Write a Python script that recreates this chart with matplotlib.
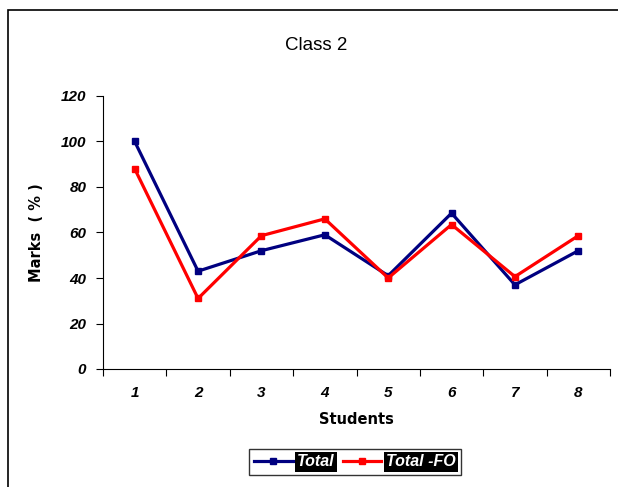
import matplotlib
matplotlib.use('Agg')
import matplotlib.pyplot as plt
from matplotlib.patches import Rectangle

plt.rcParams['font.family'] = ['Liberation Sans', 'DejaVu Sans']

students = [1, 2, 3, 4, 5, 6, 7, 8]
total = [100, 43, 52, 59, 41, 68.5, 37, 52]
total_fo = [88, 31, 58.6, 66, 40, 63.5, 40.6, 58.6]
yticks = [0, 20, 40, 60, 80, 100, 120]

fig = plt.figure(figsize=(6.18, 4.87), dpi=100)
# outer chart border (cropped at right/bottom like the source)
fig.patches.append(Rectangle((8 / 618, -0.1), 1.1, 1 - 10 / 487 + 0.1,
                             transform=fig.transFigure, fill=False,
                             edgecolor='black', linewidth=1.2))

ax = fig.add_axes([103 / 618, 1 - 369 / 487, 507 / 618, 273 / 487])
ax.plot(students, total, color='#000080', lw=2.3, marker='s', ms=5, label='Total')
ax.plot(students, total_fo, color='#ff0000', lw=2.3, marker='s', ms=5, label='Total -FO')

ax.set_xlim(0.5, 8.5)
ax.set_ylim(0, 120)
ax.set_yticks(yticks)
ax.set_yticklabels([str(v) for v in yticks], fontsize=11, fontweight='bold', fontstyle='italic')
ax.set_xticks([x + 0.5 for x in range(0, 9)])
ax.set_xticklabels([])
ax.set_xticks(students, minor=True)
ax.set_xticklabels([str(s) for s in students], minor=True, fontsize=11,
                   fontweight='bold', fontstyle='italic')
ax.tick_params(axis='x', which='minor', length=0, pad=12)
ax.tick_params(axis='x', which='major', length=5, direction='out')
ax.tick_params(axis='y', length=5, pad=7)
for s in ['top', 'right']:
    ax.spines[s].set_visible(False)

ax.set_xlabel('Students', fontsize=10.5, fontweight='bold', family='DejaVu Sans', labelpad=9)
ax.set_ylabel('Marks  ( % )', fontsize=10.5, fontweight='bold', family='DejaVu Sans', labelpad=12)
fig.text(316 / 618, 1 - 46 / 487, 'Class 2', ha='center', va='center', fontsize=13.5)

leg = fig.legend(loc='center', bbox_to_anchor=(355 / 618, 1 - 462 / 487), ncol=2,
                 frameon=True, fancybox=False, edgecolor='black', handlelength=2.4,
                 columnspacing=0.5, handletextpad=0.3, borderpad=0.35,
                 prop={'size': 11.5, 'weight': 'bold', 'style': 'italic'})
leg.get_frame().set_linewidth(1.0)
for t in leg.get_texts():
    t.set_color('white')
    t.set_bbox(dict(facecolor='black', edgecolor='none', pad=1.5))

fig.savefig('out.png', dpi=100)
